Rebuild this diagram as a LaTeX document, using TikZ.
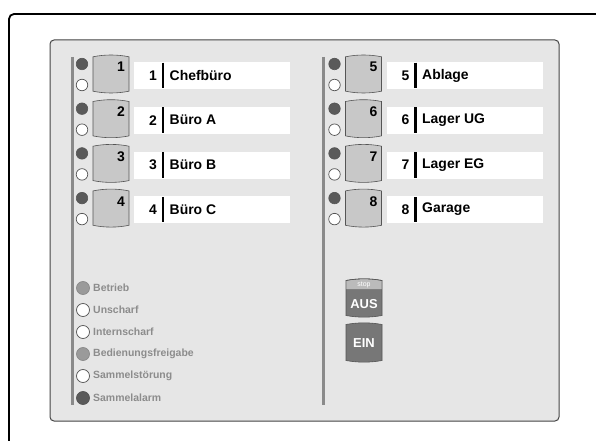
\documentclass[tikz,border=0pt]{standalone}
\usepackage{fontspec}
\setmainfont{Liberation Sans}
\definecolor{panel}{HTML}{E6E6E6}
\definecolor{edge}{HTML}{555555}
\definecolor{barc}{HTML}{8A8A8A}
\definecolor{ledon}{HTML}{5A5A5A}
\definecolor{btnc}{HTML}{C8C8C8}
\definecolor{statustxt}{HTML}{8C8C8C}
\definecolor{ledmid}{HTML}{9A9A9A}
\definecolor{ausc}{HTML}{777777}
\definecolor{stopc}{HTML}{BBBBBB}
\tikzset{
  ledonstyle/.style={circle, draw=edge, fill=ledon, line width=0.6bp, minimum size=11.5bp, inner sep=0pt},
  ledoffstyle/.style={circle, draw=edge, fill=white, line width=0.7bp, minimum size=11.5bp, inner sep=0pt},
  statusled/.style={circle, draw=#1, fill=#1, line width=0.7bp, minimum size=13bp, inner sep=0pt},
  labelbox/.style={fill=white, minimum width=156bp, minimum height=27bp, inner sep=0pt, anchor=north west},
  btnshape/.style={fill=btnc, draw=edge, line width=0.6bp},
  bigtxt/.style={font=\bfseries\fontsize{14}{16}\selectfont, inner sep=0pt},
  statustext/.style={font=\bfseries\fontsize{10.5}{12}\selectfont, text=statustxt, inner sep=0pt, anchor=west},
  barstyle/.style={draw=barc, line width=3bp},
}
\begin{document}
\begin{tikzpicture}[x=1bp, y=-1bp]
\useasboundingbox (0,0) rectangle (596,441);
% outer frame
\draw[line width=1.8bp, rounded corners=5bp] (9,442) -- (9,14) -- (597,14);
% panel
\draw[rounded corners=4bp, fill=panel, draw=edge!80!black, line width=1bp] (50,40) rectangle (559,421);
% column bars
\draw[barstyle] (72,57) coordinate (barLtop) -- (72,405) coordinate (barLbot);
\draw[barstyle] (323.5,57) coordinate (barRtop) -- (323.5,405) coordinate (barRbot);
% zones
\foreach \n/\t in {1/Chefbüro,2/Büro A,3/Büro B,4/Büro C,5/Ablage,6/Lager UG,7/Lager EG,8/Garage}{
  \pgfmathtruncatemacro\col{(\n>4)}
  \pgfmathtruncatemacro\r{mod(\n-1,4)}
  \pgfmathsetmacro\yo{62+44.7*\r}
  \pgfmathsetmacro\dx{\col*252.5}
  \pgfmathsetmacro\bt{\yo-7}
  \pgfmathsetmacro\bb{\yo+31}
  \begin{scope}[xshift=\dx bp]
    \node[ledonstyle] (ledA\n) at (82,{\yo+2}) {};
    \node[ledoffstyle] (ledB\n) at (82,{\yo+23}) {};
    \draw[btnshape] (93,{\bt+1.8}) .. controls (105,{\bt-0.6}) and (117,{\bt-0.6}) .. (129,{\bt+1.8})
      -- (129,{\bb-1.8}) .. controls (117,{\bb+0.6}) and (105,{\bb+0.6}) .. (93,{\bb-1.8}) -- cycle;
    \node[bigtxt, anchor=base east] (btnnum\n) at (125,{\yo+10}) {\n};
    \node[labelbox] (box\n) at (134,\yo) {};
    \node[bigtxt] (num\n) at (153,{\yo+13.5}) {\n};
    \draw[line width=2.4bp] (163,{\yo+0.7}) coordinate (sepT\n) -- (163,{\yo+26.3}) coordinate (sepB\n);
    \node[bigtxt, anchor=west] (name\n) at (169.5,{\yo+13.5}) {\t};
  \end{scope}
}
% status lights
\foreach \k/\t/\c/\e in {0/Betrieb/ledmid/barc,1/Unscharf/white/edge,2/Internscharf/white/edge,3/Bedienungsfreigabe/ledmid/barc,4/Sammelstörung/white/edge,5/Sammelalarm/ledon/edge}{
  \pgfmathsetmacro\ys{288+22*\k}
  \node[statusled=\c, draw=\e] (st\k) at (83,\ys) {};
  \node[statustext] (stt\k) at (93,\ys) {\t};
}
% AUS button
\draw[fill=ausc, draw=edge, line width=0.6bp] (346,280.5) .. controls (358,278.3) and (370,278.3) .. (382,280.5)
  -- (382,315.5) .. controls (370,317.7) and (358,317.7) .. (346,315.5) -- cycle;
\fill[stopc] (346.3,280.8) .. controls (358,278.6) and (370,278.6) .. (381.7,280.8) -- (381.7,289) -- (346.3,289) -- cycle;
\draw[draw=edge, line width=0.6bp] (346,280.5) .. controls (358,278.3) and (370,278.3) .. (382,280.5);
\node[font=\fontsize{7}{8}\selectfont, text=white, inner sep=0pt] (stop) at (364,284.8) {stop};
\node[font=\bfseries\fontsize{13}{15}\selectfont, text=white, inner sep=0pt] (aus) at (364,304) {AUS};
% EIN button
\draw[fill=ausc, draw=edge, line width=0.6bp] (346,324.5) .. controls (358,322.3) and (370,322.3) .. (382,324.5)
  -- (382,360.5) .. controls (370,362.7) and (358,362.7) .. (346,360.5) -- cycle;
\node[font=\bfseries\fontsize{13}{15}\selectfont, text=white, inner sep=0pt] (ein) at (364,343) {EIN};
\end{tikzpicture}
\end{document}
